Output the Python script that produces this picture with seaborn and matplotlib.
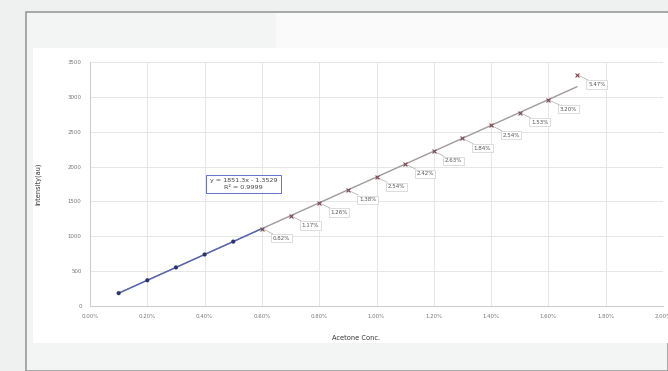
import numpy as np
import pandas as pd
import matplotlib
matplotlib.use("Agg")
import matplotlib.pyplot as plt
from matplotlib.patches import Rectangle
import seaborn as sns

# Données (concentration en %, intensité en u.a.)
conc = [0.1, 0.2, 0.3, 0.4, 0.5, 0.6, 0.7, 0.8, 0.9, 1.0, 1.1, 1.2, 1.3, 1.4, 1.5, 1.6, 1.7]
intensity = [184, 369, 553, 739, 924, 1111, 1296, 1480, 1664, 1850,
             2037, 2220, 2404, 2590, 2775, 2961, 3318]
# écarts affichés à partir de 0.6 %
errors = ["0.82%", "1.17%", "1.26%", "1.38%", "2.54%", "2.42%",
          "2.63%", "1.84%", "2.54%", "1.53%", "3.20%", "5.47%"]
slope, intercept = 1851.3, -1.3529
x_ticks = [0.0, 0.2, 0.4, 0.6, 0.8, 1.0, 1.2, 1.4, 1.6, 1.8, 2.0]
y_ticks = [0, 500, 1000, 1500, 2000, 2500, 3000, 3500]

df = pd.DataFrame({"conc": conc, "intensity": intensity})
df["groupe"] = ["cal"] * 5 + ["test"] * 12

sns.set_theme(style="whitegrid")
plt.rcParams["font.family"] = ["DejaVu Sans"]

fig = plt.figure(figsize=(6.68, 3.71), dpi=100, facecolor="#eff0f0")

# fond : cadre gris + panneau blanc
fig.patches.append(Rectangle((26 / 668, 0), 642 / 668, 1 - 12 / 371, transform=fig.transFigure,
                             facecolor="#f3f4f4", edgecolor="#9a9a9a", lw=1.2, zorder=-3))
fig.patches.append(Rectangle((276 / 668, 1 - 48 / 371), 392 / 668, 35 / 371, transform=fig.transFigure,
                             facecolor="#fafafa", edgecolor="none", zorder=-2))
fig.patches.append(Rectangle((33 / 668, 1 - 343 / 371), 635 / 668, 295 / 371, transform=fig.transFigure,
                             facecolor="white", edgecolor="none", zorder=-1))

ax = fig.add_axes([90 / 668, 1 - 306 / 371, 573 / 668, 244 / 371])
ax.set_zorder(2)
ax.set_facecolor("white")

# droite de régression
xs = np.array([conc[0], conc[-1]])
ax.plot(xs, slope * xs + intercept, color="#a09a9c", lw=1.0, zorder=2)
sns.lineplot(data=df.iloc[:6], x="conc", y="intensity", color="#5565b8", lw=1.0,
             ax=ax, zorder=3, legend=False)
sns.scatterplot(data=df[df.groupe == "cal"], x="conc", y="intensity", color="#2c3570",
                s=9, edgecolor="none", ax=ax, zorder=4, legend=False)
sns.scatterplot(data=df[df.groupe == "test"], x="conc", y="intensity", color="#7a4a50",
                marker="x", s=8, linewidth=0.8, ax=ax, zorder=4, legend=False)

for (x, y), lab in zip(df[df.groupe == "test"][["conc", "intensity"]].values, errors):
    ax.annotate(lab, (x, y), xytext=(8, -7), textcoords="offset points",
                ha="left", va="center", fontsize=4, color="#555555",
                bbox=dict(boxstyle="square,pad=0.3", fc="white", ec="#cfcfcf", lw=0.5),
                arrowprops=dict(arrowstyle="-", color="#9a9a9a", lw=0.4,
                                shrinkA=0, shrinkB=0))

ax.text(0.535, 1750, f"y = {slope}x - {abs(intercept)}\nR² = 0.9999", fontsize=4.6,
        color="#444444", ha="center", va="center", linespacing=1.35,
        bbox=dict(boxstyle="square,pad=0.55", fc="white", ec="#4a5cc0", lw=0.6))

ax.set_xlim(0, 2.0)
ax.set_ylim(0, 3500)
ax.set_xticks(x_ticks)
ax.set_xticklabels([f"{v:.2f}%" for v in x_ticks])
ax.set_yticks(y_ticks)
ax.tick_params(axis="both", labelsize=3.9, colors="#777777", length=0, pad=6)
ax.grid(True, color="#e2e2e2", lw=0.6)
for side in ["top", "right"]:
    ax.spines[side].set_visible(False)
for side in ["left", "bottom"]:
    ax.spines[side].set_color("#cfcfcf")
    ax.spines[side].set_linewidth(0.8)

ax.set_xlabel("Acetone Conc.", fontsize=4.8, color="#333333")
ax.set_ylabel("Intensity(au)", fontsize=4.8, color="#333333")
ax.xaxis.set_label_coords(0.465, -0.12)
ax.yaxis.set_label_coords(-0.085, 0.5)

fig.savefig("out.png", dpi=100, facecolor=fig.get_facecolor())
